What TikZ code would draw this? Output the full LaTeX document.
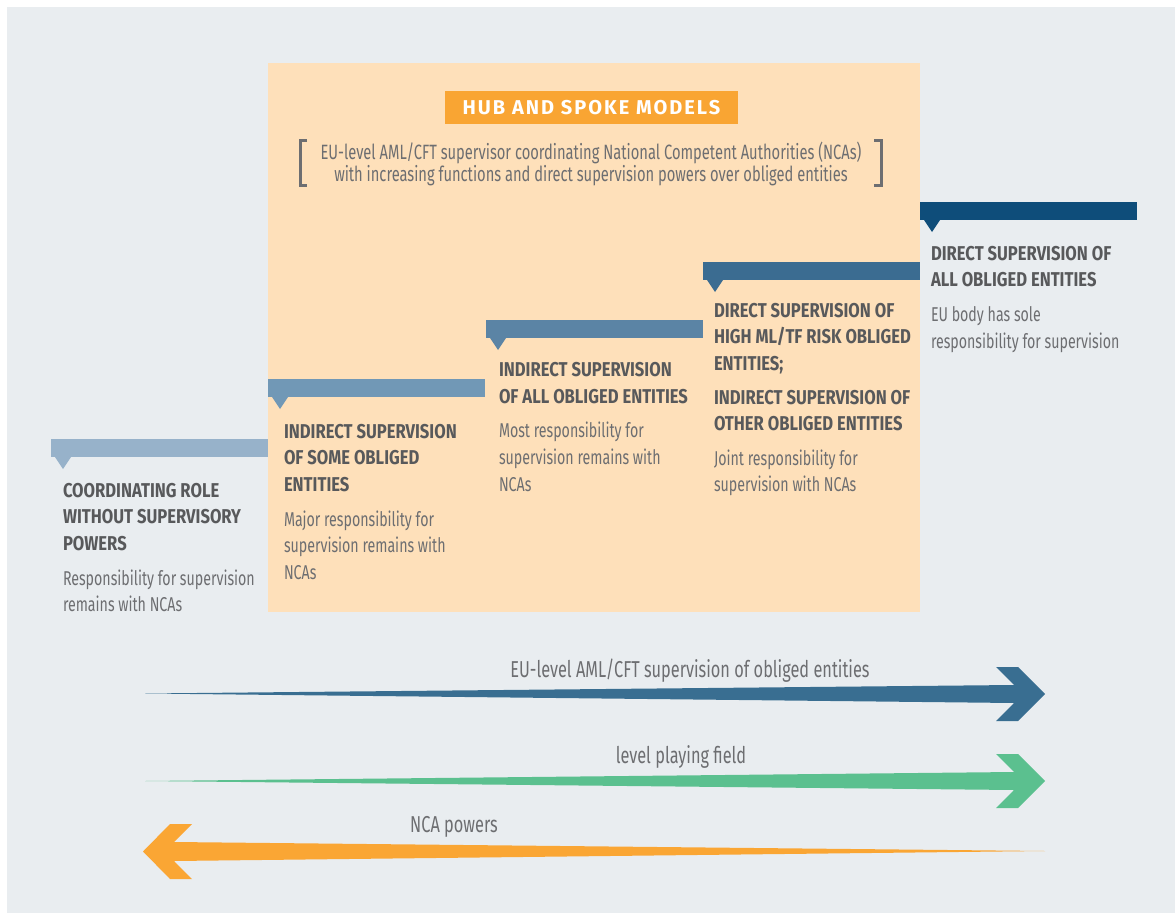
\documentclass[tikz,border=0pt]{standalone}
\usepackage{fontspec}
\setmainfont{Fira Sans}[FakeStretch=0.71, BoldFeatures={FakeStretch=0.83}]
\newfontfamily\titlefont{Fira Sans}[FakeStretch=1.0, LetterSpace=10]
\usetikzlibrary{positioning}

\definecolor{bgGrey}{HTML}{E9EDF0}
\definecolor{hubPeach}{HTML}{FEE0BA}
\definecolor{hubOrange}{HTML}{F9A533}
\definecolor{headGrey}{HTML}{58595B}
\definecolor{bodyGrey}{HTML}{6D6E71}
\definecolor{stepA}{HTML}{97B2CA}
\definecolor{stepB}{HTML}{7198B6}
\definecolor{stepC}{HTML}{5B84A5}
\definecolor{stepD}{HTML}{3B6C91}
\definecolor{stepE}{HTML}{0E4D7A}
\definecolor{arrBlue}{HTML}{396E91}
\definecolor{arrGreen}{HTML}{5BC08F}
\definecolor{arrOrange}{HTML}{FAA634}

% heading line of a step
\newcommand{\hd}[1]{{\bfseries\color{headGrey}#1}}

\begin{document}
\begin{tikzpicture}[x=1pt, y=-1pt,
    bar/.style = {anchor=north west, minimum width=217pt, minimum height=18pt, inner sep=0pt, outer sep=0pt},
    txt/.style = {align=left, inner sep=0pt, outer sep=0pt, text=bodyGrey, font=\fontsize{20}{26.6}\selectfont},
    lbl/.style = {anchor=base, inner sep=0pt, text=bodyGrey, font=\fontsize{23}{26}\selectfont},
    brk/.style = {draw=bodyGrey, line width=3pt}]
    \useasboundingbox (0,0) rectangle (1175,915);
    \fill[white] (0,0) rectangle (1175,915);
    \fill[bgGrey] (7,7) rectangle (1175,913);

    % hub and spoke panel
    \node[fill=hubPeach, anchor=north west, minimum width=652pt, minimum height=549pt, inner sep=0pt] (hub) at (268,63) {};
    \node[fill=hubOrange, minimum width=293pt, minimum height=33pt, inner sep=0pt, text=white,
          font=\fontsize{20}{24}\titlefont\bfseries] (title) at (591.5,107.5) {HUB AND SPOKE MODELS};
    \node[align=center, inner sep=0pt, text=bodyGrey, font=\fontsize{20.7}{22}\selectfont] (sub) at (591,164)
        {EU-level AML/CFT supervisor coordinating National Competent Authorities (NCAs)\\
         with increasing functions and direct supervision powers over obliged entities};
    \draw[brk] (307,141) -| (300,185) -- (307,185);
    \draw[brk] (874,141) -| (881,185) -- (874,185);

    % steps
    \node[bar, fill=stepA] (bar1) at (51,439) {};
    \fill[stepA] ([xshift=4pt]bar1.south west) -- ++(16,0) -- ++(-8,12) -- cycle;
    \node[txt, below right=26pt and 12pt of bar1.south west] (step1)
        {\hd{COORDINATING ROLE}\\\hd{WITHOUT SUPERVISORY}\\\hd{POWERS}\\[8pt]
         Responsibility for supervision\\remains with NCAs};

    \node[bar, fill=stepB] (bar2) at (268,379) {};
    \fill[stepB] ([xshift=4pt]bar2.south west) -- ++(16,0) -- ++(-8,12) -- cycle;
    \node[txt, below right=27pt and 16pt of bar2.south west] (step2)
        {\hd{INDIRECT SUPERVISION}\\\hd{OF SOME OBLIGED}\\\hd{ENTITIES}\\[8pt]
         Major responsibility for\\supervision remains with\\NCAs};

    \node[bar, fill=stepC] (bar3) at (486,320) {};
    \fill[stepC] ([xshift=4pt]bar3.south west) -- ++(16,0) -- ++(-8,12) -- cycle;
    \node[txt, below right=24.5pt and 13pt of bar3.south west] (step3)
        {\hd{INDIRECT SUPERVISION}\\\hd{OF ALL OBLIGED ENTITIES}\\[8pt]
         Most responsibility for\\supervision remains with\\NCAs};

    \node[bar, fill=stepD] (bar4) at (703,262) {};
    \fill[stepD] ([xshift=4pt]bar4.south west) -- ++(16,0) -- ++(-8,12) -- cycle;
    \node[txt, below right=23pt and 11pt of bar4.south west] (step4)
        {\hd{DIRECT SUPERVISION OF}\\\hd{HIGH ML/TF RISK OBLIGED}\\\hd{ENTITIES;}\\[7pt]
         \hd{INDIRECT SUPERVISION OF}\\\hd{OTHER OBLIGED ENTITIES}\\[8pt]
         Joint responsibility for\\supervision with NCAs};

    \node[bar, fill=stepE] (bar5) at (920,202) {};
    \fill[stepE] ([xshift=4pt]bar5.south west) -- ++(16,0) -- ++(-8,12) -- cycle;
    \node[txt, below right=26pt and 11pt of bar5.south west] (step5)
        {\hd{DIRECT SUPERVISION OF}\\\hd{ALL OBLIGED ENTITIES}\\[8pt]
         EU body has sole\\responsibility for supervision};

    % arrows
    \fill[arrBlue] (145,693.5) -- (1014,685) -- (996,667) -- (1018,667) -- (1045,694)
        -- (1018,721) -- (996,721) -- (1014,703) -- cycle;
    \node[lbl] (euLbl) at (690,677) {EU-level AML/CFT supervision of obliged entities};

    \fill[arrGreen] (145,781) -- (1014,772) -- (996,754) -- (1018,754) -- (1045,781)
        -- (1018,808) -- (996,808) -- (1014,790) -- cycle;
    \node[lbl] (lpfLbl) at (681,763) {level playing field};

    \fill[arrOrange] (1045,851) -- (174,842) -- (192,824) -- (170,824) -- (143,851.5)
        -- (170,879) -- (192,879) -- (174,861) -- cycle;
    \node[lbl] (ncaLbl) at (454,832) {NCA powers};
\end{tikzpicture}
\end{document}
